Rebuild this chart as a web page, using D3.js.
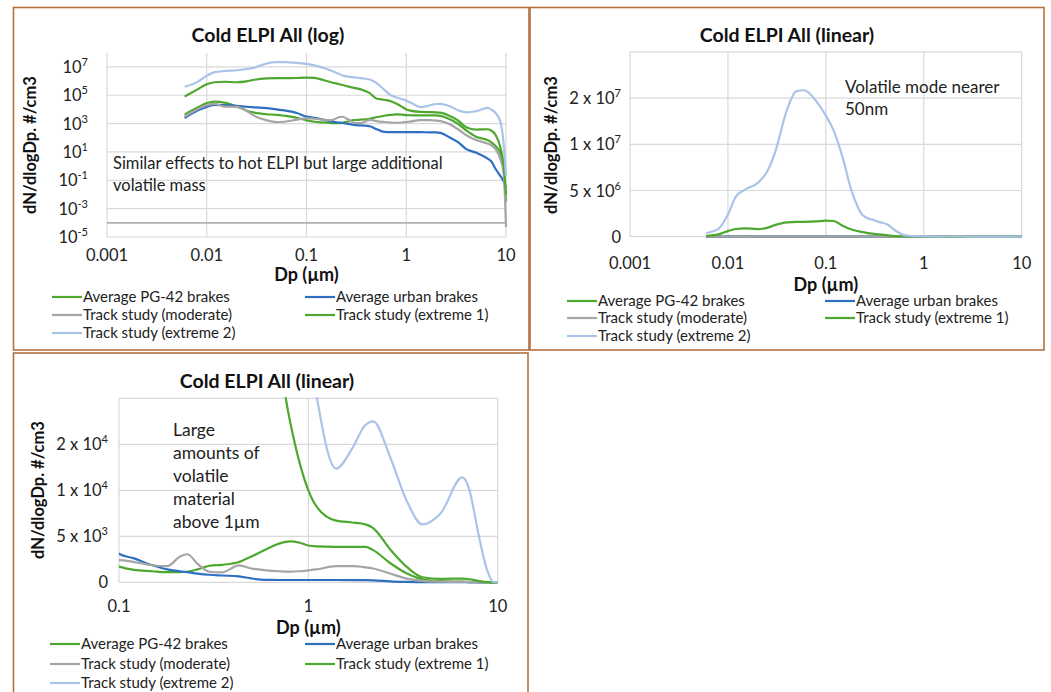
<!DOCTYPE html>
<html><head><meta charset="utf-8">
<script src="https://cdn.jsdelivr.net/npm/d3@7"></script>
<style>
body{margin:0;background:#fff;}
svg{display:block;font-family:Lato,'Open Sans',sans-serif;}
</style></head><body>
<svg id="c" width="1051" height="692"></svg>
<script>
// ---------- data ----------
const diameters = [0.006,0.008,0.01,0.012,0.015,0.02,0.025,0.03,0.04,0.05,0.06,0.08,0.1,0.12,0.15,0.18,0.21,0.23,0.26,0.3,0.35,0.43,0.5,0.6,0.7,0.8,0.9,1,1.1,1.4,1.7,2,2.2,2.7,3.3,4,5,6.5,7.1,7.9,8.8,9.5,10];
const pg42 = [4.3e3,1.3e4,2.8e4,3.6e4,3.0e4,1.6e4,8.5e3,6.0e3,4.6e3,4.2e3,3.6e3,2.6e3,1.7e3,1.35e3,1.2e3,1.1e3,1.1e3,1.15e3,1.4e3,1.8e3,1.9e3,2.2e3,2.8e3,3.6e3,4.2e3,4.45e3,4.3e3,4.0e3,3.9e3,3.85e3,3.85e3,3.85e3,3.5e3,2.1e3,980,330,120,70,50,25,8,0.5,0.003];
const urban = [2.5e3,8e3,1.5e4,2.1e4,2.0e4,1.8e4,1.55e4,1.4e4,1.25e4,1.0e4,8.5e3,5.6e3,3.1e3,2.6e3,1.85e3,1.4e3,1.2e3,1.1e3,950,820,740,650,420,260,250,250,250,250,250,250,240,240,220,110,50,16,9,3.5,2.2,0.6,0.2,0.08,0.03];
const moderate = [3.2e3,1.0e4,2.0e4,2.5e4,1.6e4,1.5e4,8e3,3.5e3,1.7e3,1.3e3,1.35e3,1.9e3,2.4e3,2.2e3,1.85e3,1.75e3,2.8e3,3.05e3,2.0e3,1.15e3,1.08e3,1.85e3,1.5e3,1.3e3,1.2e3,1.15e3,1.2e3,1.3e3,1.4e3,1.75e3,1.75e3,1.63e3,1.5e3,950,400,150,70,40,30,15,3,0.3,5e-5];
const extreme1 = [8.3e4,2.5e5,6.0e5,8.3e5,9.0e5,8.3e5,9.5e5,1.25e6,1.55e6,1.6e6,1.6e6,1.65e6,1.73e6,1.7e6,1.15e6,8.0e5,6.2e5,5.3e5,4.2e5,3.3e5,2.6e5,1.4e5,6e4,4.8e4,3.8e4,2.5e4,1.59e4,1.0e4,8.3e3,6.7e3,6.5e3,6.3e3,5.9e3,3.6e3,1.7e3,550,380,400,330,150,20,1,0.01];
const extreme2 = [4.0e5,8.5e5,2.4e6,4.3e6,5.1e6,5.8e6,7.0e6,9.0e6,1.74e7,2.15e7,2.17e7,1.93e7,1.62e7,1.3e7,8.4e6,5.2e6,3.3e6,2.5e6,2.05e6,1.85e6,1.6e6,1.3e6,7.5e5,2.5e5,1.0e5,7e4,5.5e4,4.2e4,3.1e4,1.47e4,1.9e4,2.42e4,2.5e4,1.73e4,8.9e3,6.3e3,7.5e3,1.28e4,1.0e4,5.3e3,1.3e3,30,0.2];
const seriesNames = ["Average PG-42 brakes","Average urban brakes","Track study (moderate)","Track study (extreme 1)","Track study (extreme 2)"];
const seriesColors = ["#4ea72e","#2e6fc0","#a5a5a5","#4ea72e","#a9c4e8"];
const logFloorDp = [0.001,10];
const logFloorValue = [1e-4,1e-4];

const titles = ["Cold ELPI All (log)","Cold ELPI All (linear)","Cold ELPI All (linear)"];
const yTitle = "dN/dlogDp. #/cm3";
const xTitle = "Dp (\u00b5m)";
const xTicksFull = [0.001,0.01,0.1,1,10];
const xLabelsFull = ["0.001","0.01","0.1","1","10"];
const xTicksZoom = [0.1,1,10];
const xLabelsZoom = ["0.1","1","10"];
const logYTicks = [1e7,1e5,1e3,1e1,1e-1,1e-3,1e-5];
const logYBase = ["10","10","10","10","10","10","10"];
const logYExp = ["7","5","3","1","-1","-3","-5"];
const lin1Ticks = [0,5e6,1e7,2e7,3e7];
const lin1Base = ["0","5 x 10","1 x 10","2 x 10",""];
const lin1Exp = ["","6","7","7",""];
const lin2Ticks = [0,5e3,1e4,2e4,3e4];
const lin2Base = ["0","5 x 10","1 x 10","2 x 10",""];
const lin2Exp = ["","3","4","4",""];
const notes = [
  ["Similar effects to hot ELPI but large additional","volatile mass"],
  ["Volatile mode nearer","50nm"],
  ["Large","amounts of","volatile","material","above 1\u00b5m"]
];

// ---------- drawing ----------
const svg = d3.select("#c");
const allSeries = [pg42,urban,moderate,extreme1,extreme2].map((vals,i)=>({
  name: seriesNames[i], color: seriesColors[i],
  pts: diameters.map((d,j)=>[d, vals[j]])
}));

const panels = [
  {box:[13.5,7.5,515.5,342.5], plot:{l:107,r:506,t:53,b:237},
   x: d3.scaleLog().domain([0.001,10]).range([107,506]),
   y: d3.scaleLog().domain([1e-5,1e8]).range([237,52.75]),
   xt:xTicksFull, xl:xLabelsFull, yt:logYTicks, yb:logYBase, ye:logYExp,
   title:titles[0], tx:268, ty:42, ylx:30, yly:145, yLabRight:88,
   xLabY:261, xTitY:281, legY:[297,315,333], legX:[52,305],
   note:notes[0], nx:113, ny:[169,191], ns:16.5, floor:true},
  {box:[530,7.5,514,342.5], plot:{l:630,r:1021.7,t:51.9,b:236.7},
   x: d3.scaleLog().domain([0.001,10]).range([630,1021.7]),
   y: d3.scaleLinear().domain([0,5e6,1e7,2e7,3e7]).range([236.7,190.5,144.3,98.1,51.9]),
   xt:xTicksFull, xl:xLabelsFull, yt:lin1Ticks, yb:lin1Base, ye:lin1Exp,
   title:titles[1], tx:787, ty:42, ylx:551, yly:145, yLabRight:621,
   xLabY:269, xTitY:291, legY:[301,318,336], legX:[567,825],
   note:notes[1], nx:845, ny:[93,115], ns:17, floor:false},
  {box:[13.5,353,514.5,345], plot:{l:119,r:497.7,t:398.3,b:582.3},
   x: d3.scaleLog().domain([0.1,10]).range([119,497.7]),
   y: d3.scaleLinear().domain([0,5e3,1e4,2e4,3e4]).range([582.3,536.3,490.3,444.3,398.3]),
   xt:xTicksZoom, xl:xLabelsZoom, yt:lin2Ticks, yb:lin2Base, ye:lin2Exp,
   title:titles[2], tx:267, ty:388, ylx:38, yly:490, yLabRight:108,
   xLabY:612, xTitY:634, legY:[644,664,683], legX:[50,305],
   note:notes[2], nx:173, ny:[435.5,458.5,481.5,504.5,527.5], ns:17.5, floor:false}
];

panels.forEach((p,pi)=>{
  const g = svg.append("g");
  g.append("rect").attr("x",p.box[0]).attr("y",p.box[1]).attr("width",p.box[2]).attr("height",p.box[3])
    .attr("fill","#fff").attr("stroke","#b4703f").attr("stroke-width",1.6);
  const P = p.plot;
  // horizontal grid
  g.selectAll(null).data(p.yt).enter().append("line")
    .attr("x1",P.l).attr("x2",P.r).attr("y1",d=>p.y(d)).attr("y2",d=>p.y(d))
    .attr("stroke","#d9d9d9").attr("stroke-width",1.2);
  // vertical grid
  g.selectAll(null).data(p.xt).enter().append("line")
    .attr("x1",d=>p.x(d)).attr("x2",d=>p.x(d)).attr("y1",P.t).attr("y2",P.b)
    .attr("stroke","#d9d9d9").attr("stroke-width",1.2);
  // floor line (log panel)
  if(p.floor){
    g.append("path").datum(logFloorDp.map((d,i)=>[d,logFloorValue[i]]))
      .attr("d",d3.line().x(d=>p.x(d[0])).y(d=>p.y(d[1])))
      .attr("fill","none").attr("stroke","#b0b0b0").attr("stroke-width",1.6);
  }
  // series
  const cid = "clip"+pi;
  svg.append("clipPath").attr("id",cid).append("rect")
    .attr("x",P.l).attr("y",P.t-1).attr("width",P.r-P.l+2).attr("height",P.b-P.t+3);
  const line = d3.line().x(d=>p.x(d[0])).y(d=>p.y(d[1])).curve(d3.curveMonotoneX);
  const sg = g.append("g").attr("clip-path",`url(#${cid})`);
  allSeries.forEach(s=>{
    sg.append("path").attr("d",line(s.pts)).attr("fill","none")
      .attr("stroke",s.color).attr("stroke-width",2.2).attr("stroke-linejoin","round");
  });
  // y tick labels
  p.yt.forEach((v,i)=>{
    if(!p.yb[i]) return;
    const t = g.append("text").attr("x",p.yLabRight).attr("y",p.y(v)+6)
      .attr("text-anchor","end").attr("font-size",16.5).attr("fill","#222");
    t.append("tspan").text(p.yb[i]);
    if(p.ye[i]) t.append("tspan").attr("dy",-7).attr("font-size",11).text(p.ye[i]);
  });
  // x tick labels
  g.selectAll(null).data(p.xt).enter().append("text")
    .attr("x",d=>p.x(d)).attr("y",p.xLabY).attr("text-anchor","middle")
    .attr("font-size",16.5).attr("fill","#222").text((d,i)=>p.xl[i]);
  // titles
  g.append("text").attr("x",p.tx).attr("y",p.ty).attr("text-anchor","middle")
    .attr("font-size",19.5).attr("font-weight","bold").attr("fill","#111").text(p.title);
  g.append("text").attr("transform",`translate(${p.ylx},${p.yly}) rotate(-90)`)
    .attr("text-anchor","middle").attr("dy",6).attr("font-size",16.5).attr("font-weight","bold")
    .attr("fill","#111").text(yTitle);
  g.append("text").attr("x",(P.l+P.r)/2).attr("y",p.xTitY).attr("text-anchor","middle")
    .attr("font-size",18).attr("font-weight","bold").attr("fill","#111").text(xTitle);
  // note
  p.note.forEach((s,i)=>{
    g.append("text").attr("x",p.nx).attr("y",p.ny[i]).attr("font-size",p.ns)
      .attr("fill","#222").text(s);
  });
  // legend
  allSeries.forEach((s,i)=>{
    const col = i%2, row = Math.floor(i/2);
    const lx = p.legX[col], ly = p.legY[row];
    g.append("line").attr("x1",lx).attr("x2",lx+30).attr("y1",ly).attr("y2",ly)
      .attr("stroke",s.color).attr("stroke-width",2.2);
    g.append("text").attr("x",lx+31).attr("y",ly+5).attr("font-size",15)
      .attr("fill","#222").text(s.name);
  });
});
</script>
</body></html>
